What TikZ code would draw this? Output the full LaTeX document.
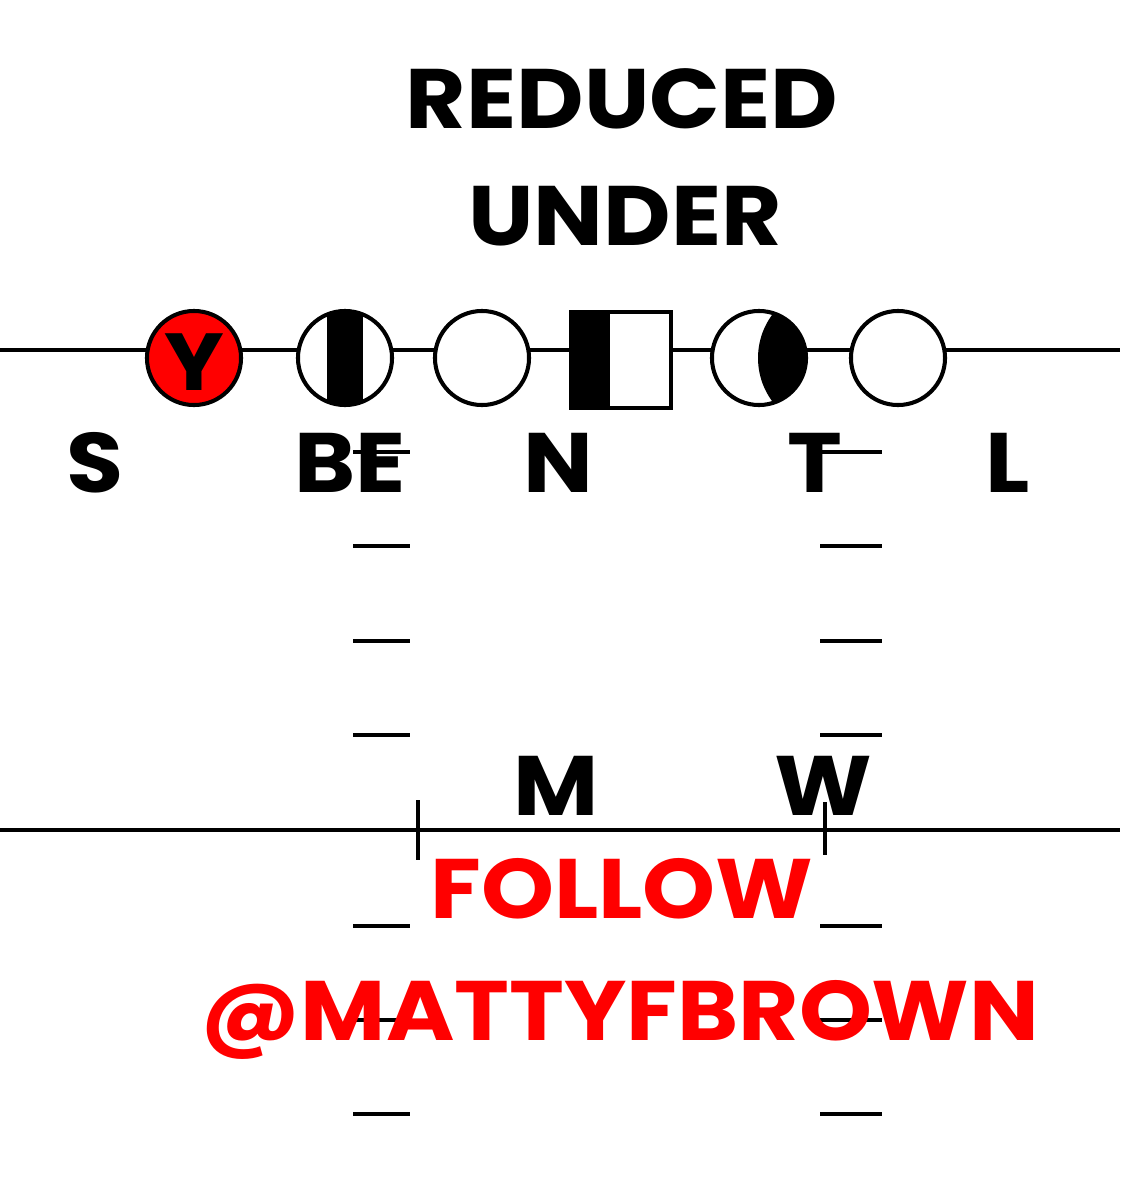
\documentclass[tikz,border=0pt]{standalone}
\usepackage{fontspec}
\setmainfont{Poppins}[FakeStretch=1.1]
\usetikzlibrary{positioning}

\tikzset{
  lineman/.style={circle, draw, line width=1.15pt, fill=white, minimum size=0.94cm, inner sep=0pt},
  snapper/.style={rectangle, draw, line width=1.15pt, fill=white, minimum width=1cm, minimum height=0.95cm, inner sep=0pt},
  posname/.style={font=\fontsize{24}{28}\selectfont\bfseries, inner sep=0pt, anchor=base},
  hash/.style={line width=1.15pt},
  yardline/.style={line width=1.15pt},
}

\begin{document}
\begin{tikzpicture}[x=0.01cm, y=-0.01cm]
   % pixel grid, y runs down
   \useasboundingbox (0,0) rectangle (1120,1200);

   \foreach \y in {452,546,641,735,926,1020,1114} {
     \draw[hash] (353,\y) -- (410,\y);
     \draw[hash] (820,\y) -- (882,\y);
   }

   \coordinate (losW) at (0,350);
   \coordinate (losE) at (1120,350);
   \draw[yardline] (losW) -- (losE);

   \coordinate (lbW) at (0,830);
   \coordinate (lbE) at (1120,830);
   \draw[yardline] (lbW) -- (lbE);
   \draw[yardline] (418,800) -- (418,860);
   \draw[yardline] (825,802) -- (825,855);

   \node[lineman, fill=red] (Y) at (194,358) {};
   \node[font=\fontsize{23}{23}\selectfont\bfseries, inner sep=0pt, anchor=base] (Ylbl) at (194,390) {Y};
   \node[lineman, path picture={
       \fill[black] ([xshift=-0.175cm]path picture bounding box.north) rectangle
             ([xshift=0.175cm]path picture bounding box.south);}] (LT) at (345,358) {};
   \node[lineman] (LG) at (482,358) {};
   \node[snapper, path picture={
       \fill[black] (path picture bounding box.north west) rectangle
             ([xshift=0.39cm]path picture bounding box.south west);}] (C) at (621,360) {};
   \node[lineman, path picture={
       \fill[black] ([xshift=0.72cm]path picture bounding box.center) circle[radius=0.73cm];}] (RG) at (759,358) {};
   \node[lineman] (RT) at (898,358) {};

   \node[posname] (title1) at (622,128) {REDUCED};
   \node[posname] (title2) at (625,245) {UNDER};

   \foreach \x/\t in {95/S,350/BE,558/N,815/T,1008/L} {
     \node[posname] (pos\t) at (\x,492) {\t};
   }
   \node[posname] (posM) at (556,815) {M};
   \node[posname] (posW) at (823,815) {W};

   \node[posname, text=red] (follow1) at (622,918) {FOLLOW};
   \node[posname, text=red] (follow2) at (620,1040) {@MATTYFBROWN};
\end{tikzpicture}
\end{document}
